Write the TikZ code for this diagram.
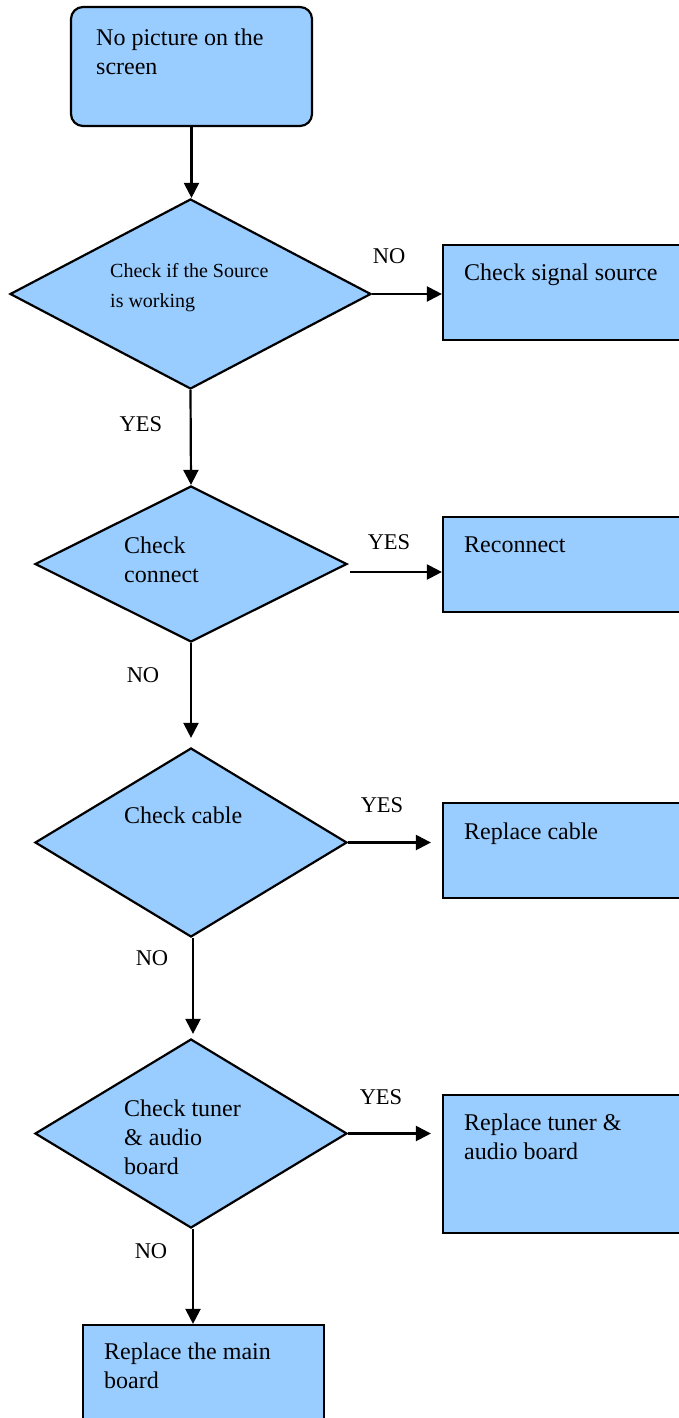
\documentclass[tikz,border=0pt]{standalone}
\usepackage{fontspec}
\setmainfont{Liberation Serif}
\usetikzlibrary{shapes.geometric,arrows.meta,calc}
\definecolor{FlowBlue}{RGB}{153,204,255}
\tikzset{
  startbox/.style={draw=black,fill=FlowBlue,line width=2.2pt,rounded corners=12pt,minimum width=241pt,minimum height=119pt,inner sep=0pt},
  procbox/.style={draw=black,fill=FlowBlue,line width=2.2pt,minimum width=260pt,minimum height=95pt,inner sep=0pt},
  decision/.style={diamond,draw=black,fill=FlowBlue,line width=2.2pt,inner sep=0pt,minimum width=312pt,minimum height=189pt},
  txt/.style={anchor=north west,inner sep=0pt,align=left,font=\fontsize{24}{29}\selectfont},
  lbl/.style={inner sep=0pt,font=\fontsize{22.5}{27}\selectfont},
  arr/.style={-{Triangle[length=15pt,width=15pt]},line width=2.2pt},
}
\begin{document}
\begin{tikzpicture}[x=1pt,y=-1pt]
  \useasboundingbox (0,0) rectangle (679,1418);
  \clip (0,0) rectangle (679,1418);
  % shapes
  \node[startbox] (start) at (191.5,66.5) {};
  \node[decision,minimum width=361pt,minimum height=190pt] (src) at (190.5,294) {};
  \node[decision,minimum height=156pt] (conn) at (191,564) {};
  \node[decision] (cable) at (191,842.5) {};
  \node[decision] (tuner) at (191,1133.5) {};
  \node[procbox] (signal) at (573,292.5) {};
  \node[procbox] (recon) at (573,564.5) {};
  \node[procbox] (repcab) at (573,850.5) {};
  \node[procbox,minimum height=138pt] (reptun) at (573,1164) {};
  \node[procbox,minimum width=241pt,minimum height=119pt] (mainb) at (203.5,1384.5) {};
  % texts
  \node[txt] (t-start) at (96,28.6) {No picture on the\\screen};
  \node[txt,font=\fontsize{20}{30}\selectfont] (t-src) at (110,263.3) {Check if the Source\\is working};
  \node[txt] (t-signal) at (464,263.6) {Check signal source};
  \node[txt] (t-conn) at (124,536.6) {Check\\connect};
  \node[txt] (t-recon) at (464,536.5) {Reconnect};
  \node[txt] (t-cable) at (124,806.6) {Check cable};
  \node[txt] (t-repcab) at (464,822.6) {Replace cable};
  \node[txt] (t-tuner) at (124,1099.6) {Check tuner\\\& audio\\board};
  \node[txt] (t-reptun) at (464,1113.6) {Replace tuner \&\\audio board};
  \node[txt] (t-mainb) at (104,1342.6) {Replace the main\\board};
  % connectors
  \coordinate (connout) at ($(conn.east)+(2,8)$);
  \coordinate (cabout) at ($(cable.south)+(2,0)$);
  \coordinate (tunout) at ($(tuner.south)+(2,0)$);
  \draw[arr] (start.south) -- (start.south |- src.north);
  \draw[arr] (src.east) -- (src.east -| signal.west);
  \draw[arr] (src.south) -- (conn.north);
  \draw[arr] (connout) -- (connout -| recon.west);
  \draw[arr,shorten >=9pt] (conn.south) -- (cable.north);
  \draw[arr,shorten >=11pt] (cable.east) -- (cable.east -| repcab.west);
  \draw[arr,shorten >=4pt] (cabout) -- (cabout |- tuner.north);
  \draw[arr,shorten >=11pt] (tuner.east) -- (tuner.east -| reptun.west);
  \draw[arr] (tunout) -- (tunout |- mainb.north);
  % labels
  \node[lbl] (l-src-no) at (389,256) {NO};
  \node[lbl] (l-src-yes) at (141,424) {YES};
  \node[lbl] (l-conn-yes) at (389,542) {YES};
  \node[lbl] (l-conn-no) at (143,675) {NO};
  \node[lbl] (l-cable-yes) at (382,805) {YES};
  \node[lbl] (l-cable-no) at (152,958) {NO};
  \node[lbl] (l-tuner-yes) at (381,1097) {YES};
  \node[lbl] (l-tuner-no) at (151,1251) {NO};
\end{tikzpicture}
\end{document}
